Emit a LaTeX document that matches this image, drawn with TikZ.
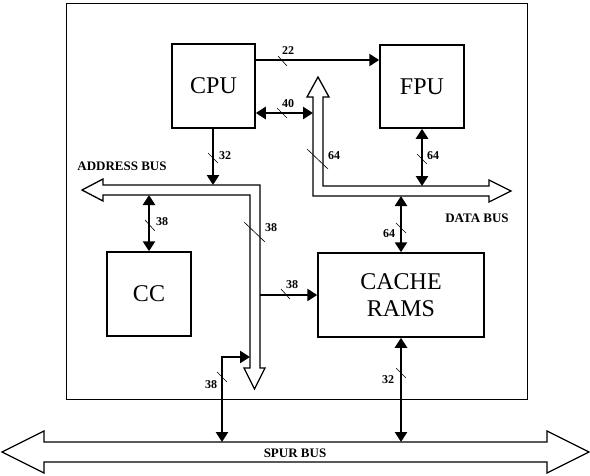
\documentclass[tikz,border=0pt]{standalone}
\usepackage{fontspec}
\setmainfont{Liberation Serif}
\usetikzlibrary{arrows.meta}
\begin{document}
\begin{tikzpicture}[x=1pt,y=-1pt,
  block/.style={draw,line width=1.5pt,inner sep=0pt,align=center,
    font=\fontsize{24}{27}\selectfont},
  frame/.style={draw,line width=0.9pt,inner sep=0pt},
  bus/.style={draw,line width=1.3pt,fill=white,line join=miter},
  sig/.style={line width=2.9pt},
  tick/.style={line width=0.6pt},
  lbl/.style={font=\bfseries\fontsize{12}{12}\selectfont,inner sep=0pt},
  buslbl/.style={font=\bfseries\fontsize{13}{13}\selectfont,inner sep=0pt},
  >={Triangle[length=10pt,width=12pt]}]
\useasboundingbox (0,0) rectangle (590,475);

% board
\node[frame,minimum width=461pt,minimum height=396pt] (board) at (296.5,201) {};

% blocks
\node[block,minimum width=83pt,minimum height=84pt] (cpu) at (213.5,86) {CPU};
\node[block,minimum width=84pt,minimum height=83pt] (fpu) at (422,86.5) {FPU};
\node[block,minimum width=84pt,minimum height=84pt] (cc) at (149,294) {CC};
\node[block,minimum width=166pt,minimum height=84pt] (cache) at (401,295) {CACHE\\RAMS};

% address bus
\draw[bus] (103,185) -- (260,185) -- (260,368) -- (265,368) -- (254.5,389)
  -- (244,368) -- (250,368) -- (250,195) -- (103,195) -- (103,201)
  -- (82,190) -- (103,179) -- cycle;
% data bus
\draw[bus] (313,97) -- (307,97) -- (318,77) -- (329,97) -- (323,97)
  -- (323,186) -- (489,186) -- (489,180) -- (511,191) -- (489,202)
  -- (489,196) -- (313,196) -- cycle;
% spur bus
\draw[bus] (44,442) -- (547,442) -- (547,431) -- (589,452) -- (547,473)
  -- (547,462) -- (44,462) -- (44,473) -- (2,452) -- (44,431) -- cycle;

% bus attachment points
\coordinate (fpuIn) at (fpu.west |- 0,60);
\coordinate (db40) at (313,113);
\coordinate (abTop) at (213,185);
\coordinate (dbTop) at (422,186);
\coordinate (dbBot) at (401,196);
\coordinate (abBot) at (149,195);
\coordinate (abRight) at (260,295);
\coordinate (abIn) at (250,357);
\coordinate (spurA) at (222,442);
\coordinate (spurB) at (401,442);

% connectors
\draw[sig,->] (cpu.east |- fpuIn) -- (fpuIn);
\draw[sig,<->] (cpu.east |- db40) -- (db40);
\draw[sig,->] (cpu.south -| abTop) -- (abTop);
\draw[sig,<->] (fpu.south) -- (dbTop);
\draw[sig,<->] (dbBot) -- (cache.north -| dbBot);
\draw[sig,<->] (abBot) -- (cc.north);
\draw[sig,->] (abRight) -- (cache.west);
\draw[sig,<->] (abIn) -| (spurA);
\draw[sig,<->] (cache.south -| spurB) -- (spurB);

% width ticks
\draw[tick] (278,56) -- (287,66);
\draw[tick] (277,108) -- (287,118);
\draw[tick] (208,153) -- (218,163);
\draw[tick] (307,149) -- (328,169);
\draw[tick] (417,154) -- (427,164);
\draw[tick] (396,223) -- (406,233);
\draw[tick] (145,220) -- (155,231);
\draw[tick] (244,222) -- (265,242);
\draw[tick] (281,289) -- (290,299);
\draw[tick] (217,372) -- (227,382);
\draw[tick] (396,368) -- (406,378);

% labels
\node[lbl] (l22) at (288,51) {22};
\node[lbl] (l40) at (288,104) {40};
\node[lbl] (l32a) at (225,156) {32};
\node[lbl] (l64a) at (334,156) {64};
\node[lbl] (l64b) at (433,156) {64};
\node[lbl] (l64c) at (389,234) {64};
\node[lbl] (l38a) at (162,222) {38};
\node[lbl] (l38b) at (271,228) {38};
\node[lbl] (l38c) at (292,285) {38};
\node[lbl] (l38d) at (211,385) {38};
\node[lbl] (l32b) at (388,380) {32};
\node[buslbl] (abl) at (122,166) {ADDRESS BUS};
\node[buslbl] (dbl) at (477,218) {DATA BUS};
\node[buslbl] (sbl) at (295,453) {SPUR BUS};
\end{tikzpicture}
\end{document}
